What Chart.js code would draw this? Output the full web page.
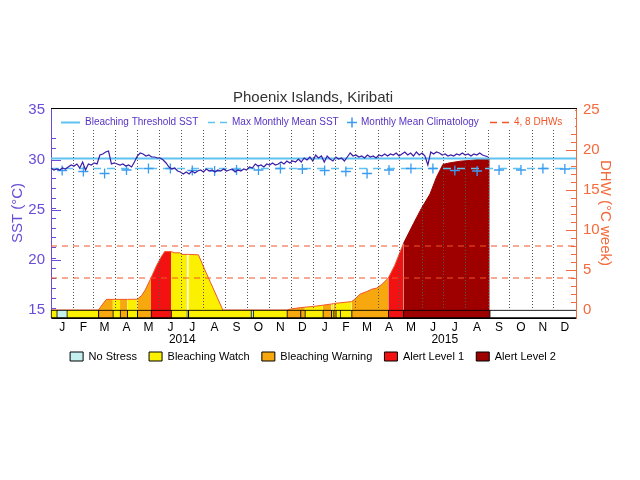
<!DOCTYPE html>
<html>
<head>
<meta charset="utf-8">
<title>Phoenix Islands, Kiribati</title>
<script src="https://cdn.jsdelivr.net/npm/chart.js@4.4.1/dist/chart.umd.min.js"></script>
<style>
    html, body { margin: 0; padding: 0; background: #fff; }
    #grafico { display: block; }
</style>
</head>
<body>
<canvas id="grafico" width="640" height="480"></canvas>
<script>
// ======================== DADOS ========================
const monthLetters = ['J', 'F', 'M', 'A', 'M', 'J', 'J', 'A', 'S', 'O', 'N', 'D'];
const monthLengths = [31, 28, 31, 30, 31, 30, 31, 31, 30, 31, 30, 31];
const yearLabels = ['2014', '2015'];
const totalDays = 730;

// SST every 4 days from 1 Jan 2014
const sstStepDays = 4;
const sstValues = [
    29.2, 29.0, 29.1, 29.0, 29.2, 29.1, 29.3, 29.5, 29.4, 29.6,
    29.2, 29.8, 29.0, 29.6, 29.5, 29.7, 29.6, 30.5, 30.6, 30.8,
    30.9, 29.6, 29.7, 29.6, 29.5, 29.6, 29.4, 29.5, 29.3, 29.8,
    30.4, 30.7, 30.6, 30.4, 30.5, 30.3, 30.3, 30.2, 30.2, 30.0,
    29.7, 29.3, 29.1, 29.2, 28.9, 28.8, 28.6, 28.8, 28.6, 28.9,
    28.7, 28.9, 29.0, 28.8, 29.1, 28.9, 29.0, 28.8, 29.0, 28.9,
    29.1, 28.9, 29.0, 29.1, 28.8, 29.0, 28.9, 29.1, 29.0, 29.3,
    29.2, 29.6, 29.4, 29.5, 29.3, 29.6, 29.5, 29.7, 29.5, 29.6,
    29.8, 29.6, 29.9, 29.7, 29.9, 29.8, 30.1, 29.8, 30.2, 30.0,
    30.3, 29.9, 30.5, 30.2, 30.4, 29.8, 30.4, 30.1, 29.9, 30.3,
    30.1, 30.2, 29.9, 30.3, 30.7, 30.4, 30.5, 30.3, 30.4, 30.2,
    30.5, 30.3, 30.4, 30.2, 30.5, 30.4, 30.6, 30.4, 30.6, 30.5,
    30.7, 30.4, 30.6, 30.8, 30.5, 30.7, 30.4, 30.8, 30.5, 30.7,
    30.4, 29.5, 30.8, 30.6, 30.8, 30.7, 30.5, 30.6, 30.4, 30.5,
    30.4, 30.6, 30.5, 30.7, 30.5, 30.6, 30.4, 30.6, 30.5, 30.7,
    30.5, 30.4, 30.3,
];

const climatology = [28.95, 28.85, 28.65, 29.0, 29.15, 29.15, 28.95, 28.9, 29.0, 29.0, 29.15, 29.1];
const maxMonthlyMean = 29.15;
const bleachingThreshold = 30.15;
const dhwLevels = [4, 8];

const dhwDays = [
    0, 66, 72, 77, 86, 96, 106, 120, 126, 131, 139, 147, 153, 158, 167, 172, 179, 182,
    189, 191, 205, 214, 222, 231, 239, 328, 335, 347, 353, 365, 378, 390, 393, 396,
    402, 418, 423, 430, 439, 446, 453, 460, 469, 478, 490, 504, 515, 527, 536, 545,
    555, 569, 583, 597, 610,
];
const dhwValues = [
    0, 0, 0.75, 1.33, 1.33, 1.33, 1.33, 1.35, 1.8, 2.5, 4.0, 5.6, 6.6, 7.3, 7.3, 7.15, 7.15, 6.95,
    6.95, 6.95, 6.9, 5.0, 3.4, 1.6, 0, 0, 0.15, 0.3, 0.35, 0.45, 0.6, 0.75, 0.8, 0.85,
    0.9, 1.05, 1.4, 2.0, 2.3, 2.6, 2.75, 3.2, 4.0, 5.6, 8.3, 10.8, 12.7, 14.5, 16.6, 18.2,
    18.4, 18.6, 18.7, 18.85, 18.85,
];

const stressNames = ['No Stress', 'Bleaching Watch', 'Bleaching Warning', 'Alert Level 1', 'Alert Level 2'];
const stressColors = ['#c4f0f0', '#fbf000', '#f6a80e', '#f21212', '#9e0000'];
// alert blocks: first day of each block and its level (-1 = no data)
const blockStarts = [0, 8, 22, 66, 86, 96, 106, 120, 139, 167, 189, 191, 278, 281, 328, 347, 353, 378, 390, 393, 396, 402, 418, 469, 490, 610];
const blockLevels = [1, 0, 1, 2, 1, 2, 1, 2, 3, 1, 0, 1, 0, 1, 2, 2, 1, 2, 1, 2, 1, 1, 2, 3, 4, -1];

// ======================== CORES ========================
const sstPurple = '#6a4cd6';
const sstNavy = '#3b1da8';
const dhwOrange = '#f36a3b';
const dhwRed = '#f0562a';
const lineBlue = '#5ec2f2';
const crossBlue = '#3a9cf0';
const legendBlue = '#5632c2';

// ======================== AUXILIARES ========================
const monthStarts = [];
let acc = 0;
yearLabels.forEach(() => monthLengths.forEach((len) => { monthStarts.push(acc); acc += len; }));
const monthMids = monthStarts.map((s, i) => s + monthLengths[i % 12] / 2);
const yearMids = [0, 365].map((s) => s + 182.5);

function levelAt(day) {
    let lvl = blockLevels[0];
    blockStarts.forEach((s, i) => { if (s <= day) lvl = blockLevels[i]; });
    return lvl;
}
const stripColor = (lvl) => (lvl < 0 ? '#ffffff' : stressColors[lvl]);
const fillColor = (lvl) => (lvl <= 0 ? '#ffffff' : stressColors[lvl]);
const midDay = (c) => (c.p0.parsed.x + c.p1.parsed.x) / 2;

const fixWidth = (w) => (scale) => { scale.width = w; };
const fixHeight = (h) => (scale) => { scale.height = h; };
const dropNegative = (scale) => { scale.ticks = scale.ticks.filter((t) => t.value >= 0); };

const flatLine = (y) => [{ x: 0, y }, { x: totalDays, y }];

// legend inside the frame (positions from the left edge of the plot)
const lineKeys = [
    { text: 'Bleaching Threshold SST', at: 10, kind: 'solid', color: lineBlue, textColor: legendBlue },
    { text: 'Max Monthly Mean SST', at: 157, kind: 'dash', color: lineBlue, textColor: legendBlue },
    { text: 'Monthly Mean Climatology', at: 296, kind: 'cross', color: crossBlue, textColor: legendBlue },
    { text: '4, 8 DHWs', at: 439, kind: 'dash', color: dhwRed, textColor: dhwRed },
];

const overlay = {
    id: 'overlay',
    afterDraw(chart) {
        const { ctx, chartArea: a } = chart;
        // alert strip back over the dotted month lines
        chart.getDatasetMeta(0).controller.draw();

        ctx.save();
        ctx.fillStyle = '#fff';
        ctx.fillRect(a.left + 1, a.top + 1, a.right - a.left - 2, 21);
        const y = Math.round(a.top + 13.5) + 0.5;
        ctx.font = '10px "Liberation Sans", Arial, sans-serif';
        ctx.textBaseline = 'middle';
        lineKeys.forEach((k) => {
            const x = a.left + k.at;
            ctx.strokeStyle = k.color;
            let tx = x + 24;
            if (k.kind === 'cross') {
                ctx.lineWidth = 1.5;
                ctx.setLineDash([]);
                ctx.beginPath();
                ctx.moveTo(x, y); ctx.lineTo(x + 10, y);
                ctx.moveTo(x + 5, y - 5); ctx.lineTo(x + 5, y + 5);
                ctx.stroke();
                tx = x + 14;
            } else {
                ctx.lineWidth = k.kind === 'solid' ? 2 : 1.5;
                ctx.setLineDash(k.kind === 'dash' ? [7, 5] : []);
                ctx.beginPath();
                ctx.moveTo(x, y); ctx.lineTo(x + 19, y);
                ctx.stroke();
            }
            ctx.fillStyle = k.textColor;
            ctx.fillText(k.text, tx, y);
        });
        ctx.restore();
    },
};

// ======================== GRÁFICO ========================
Chart.defaults.font.family = '"Liberation Sans", "DejaVu Sans", Arial, sans-serif';
Chart.defaults.color = '#000';

new Chart(document.getElementById('grafico'), {
    type: 'line',
    data: {
        datasets: [
            {
                type: 'bar',
                indexAxis: 'y',
                xAxisID: 'x',
                yAxisID: 'dhw',
                order: 0,
                data: blockStarts.map((s, i) => ({
                    x: [s, i + 1 < blockStarts.length ? blockStarts[i + 1] : totalDays],
                    y: -0.5,
                })),
                backgroundColor: blockLevels.map(stripColor),
                borderColor: '#000',
                borderWidth: { top: 1, bottom: 1, left: 1, right: 0 },
                borderSkipped: false,
                barThickness: 8,
            },
            {
                label: 'SST',
                yAxisID: 'sst',
                order: 1,
                data: sstValues.map((v, i) => ({ x: i * sstStepDays, y: v })),
                borderColor: sstNavy,
                borderWidth: 1.2,
                pointRadius: 0,
                tension: 0,
            },
            {
                label: 'Monthly Mean Climatology',
                yAxisID: 'sst',
                order: 2,
                showLine: false,
                data: monthMids.map((d, i) => ({ x: d, y: climatology[i % 12] })),
                pointStyle: 'cross',
                pointRadius: 5,
                pointBorderWidth: 1.3,
                pointBorderColor: crossBlue,
            },
            {
                label: 'Bleaching Threshold SST',
                yAxisID: 'sst',
                order: 3,
                data: flatLine(bleachingThreshold),
                borderColor: lineBlue,
                borderWidth: 2,
                pointRadius: 0,
            },
            {
                label: 'Max Monthly Mean SST',
                yAxisID: 'sst',
                order: 4,
                data: flatLine(maxMonthlyMean),
                borderColor: lineBlue,
                borderWidth: 1.5,
                borderDash: [8, 6],
                pointRadius: 0,
            },
            ...dhwLevels.map((v) => ({
                label: v + ' DHW',
                yAxisID: 'dhw',
                order: 5,
                data: flatLine(v),
                borderColor: dhwRed,
                borderWidth: 1.2,
                borderDash: [6, 5],
                pointRadius: 0,
            })),
            {
                label: 'DHW',
                yAxisID: 'dhw',
                order: 7,
                data: dhwDays.map((d, i) => ({ x: d, y: dhwValues[i] })),
                borderColor: dhwRed,
                borderWidth: 1,
                pointRadius: 0,
                fill: 'origin',
                backgroundColor: '#ffffff',
                segment: {
                    backgroundColor: (c) => fillColor(levelAt(midDay(c))),
                    borderColor: (c) => (levelAt(midDay(c)) === 4 ? stressColors[4] : dhwRed),
                },
            },
        ],
    },
    options: {
        responsive: false,
        animation: false,
        devicePixelRatio: 1,
        events: [],
        layout: { padding: { top: 89, right: 14, bottom: 108, left: 0 } },
        scales: {
            x: {
                type: 'linear',
                position: 'bottom',
                min: 0,
                max: totalDays,
                weight: 0,
                afterBuildTicks: (s) => { s.ticks = monthMids.map((v) => ({ value: v })); },
                afterFit: fixHeight(16),
                grid: { display: false, drawTicks: false },
                border: { color: '#000', width: 1 },
                ticks: {
                    autoSkip: false,
                    maxRotation: 0,
                    padding: 4,
                    color: '#000',
                    font: { size: 12, lineHeight: 1 },
                    callback: (v, i) => monthLetters[i % 12],
                },
            },
            xYear: {
                type: 'linear',
                position: 'bottom',
                min: 0,
                max: totalDays,
                weight: 1,
                afterBuildTicks: (s) => { s.ticks = yearMids.map((v) => ({ value: v })); },
                afterFit: fixHeight(14),
                grid: { display: false, drawTicks: false },
                border: { display: false },
                ticks: {
                    autoSkip: false,
                    maxRotation: 0,
                    padding: 0,
                    color: '#000',
                    font: { size: 12, lineHeight: 1 },
                    callback: (v, i) => yearLabels[i],
                },
            },
            xTop: {
                type: 'linear',
                position: 'top',
                min: 0,
                max: totalDays,
                afterBuildTicks: (s) => { s.ticks = monthStarts.slice(1).map((v) => ({ value: v })); },
                afterFit: fixHeight(0),
                ticks: { display: false },
                grid: { color: '#555', lineWidth: 1, drawTicks: false, z: 1 },
                border: { color: '#000', width: 1, dash: [1, 2], z: 1 },
            },
            sst: {
                type: 'linear',
                axis: 'y',
                position: 'left',
                min: 14.2,
                max: 35.2,
                weight: 1,
                afterFit: fixWidth(51),
                ticks: { stepSize: 5, includeBounds: false, padding: 16, color: sstPurple, font: { size: 15 } },
                grid: { drawOnChartArea: false, tickLength: -10, tickColor: sstPurple },
                border: { color: sstPurple, width: 1 },
                title: {
                    display: true,
                    text: 'SST (°C)',
                    color: sstPurple,
                    font: { size: 15 },
                    padding: { top: 9, bottom: 0 },
                },
            },
            sstMinor: {
                type: 'linear',
                axis: 'y',
                position: 'left',
                min: 14.2,
                max: 35.2,
                weight: 0,
                afterFit: fixWidth(0),
                ticks: { stepSize: 1, includeBounds: false, display: false },
                grid: { drawOnChartArea: false, tickLength: -5, tickColor: sstPurple },
                border: { display: false },
            },
            dhw: {
                type: 'linear',
                axis: 'y',
                position: 'right',
                min: -1,
                max: 25.25,
                offset: false,
                weight: 1,
                afterFit: fixWidth(50),
                afterBuildTicks: dropNegative,
                ticks: { stepSize: 5, includeBounds: false, padding: 17, color: dhwOrange, font: { size: 15 } },
                grid: { offset: false, drawOnChartArea: false, tickLength: -10, tickColor: dhwOrange },
                border: { color: dhwOrange, width: 1 },
                title: {
                    display: true,
                    text: 'DHW (°C week)',
                    color: dhwOrange,
                    font: { size: 15 },
                    padding: { top: 12, bottom: 0 },
                },
            },
            dhwMinor: {
                type: 'linear',
                axis: 'y',
                position: 'right',
                min: -1,
                max: 25.25,
                weight: 0,
                afterFit: fixWidth(0),
                afterBuildTicks: dropNegative,
                ticks: { stepSize: 1, includeBounds: false, display: false },
                grid: { drawOnChartArea: false, tickLength: -5, tickColor: dhwOrange },
                border: { display: false },
            },
        },
        plugins: {
            title: {
                display: true,
                text: 'Phoenix Islands, Kiribati',
                color: '#333',
                font: { size: 15, weight: 'normal' },
                padding: { top: 0, bottom: 1 },
            },
            legend: {
                position: 'bottom',
                labels: {
                    boxWidth: 13,
                    boxHeight: 9,
                    padding: 3,
                    color: '#000',
                    font: { size: 11 },
                    // trailing spaces keep the wider gap between items without pushing the row down
                    generateLabels: () => stressNames.map((t, i) => ({
                        text: i < stressNames.length - 1 ? t + '   ' : t,
                        fillStyle: stressColors[i],
                        strokeStyle: '#000',
                        lineWidth: 1,
                        hidden: false,
                        index: i,
                    })),
                },
            },
            tooltip: { enabled: false },
        },
    },
    plugins: [overlay],
});
</script>
</body>
</html>
